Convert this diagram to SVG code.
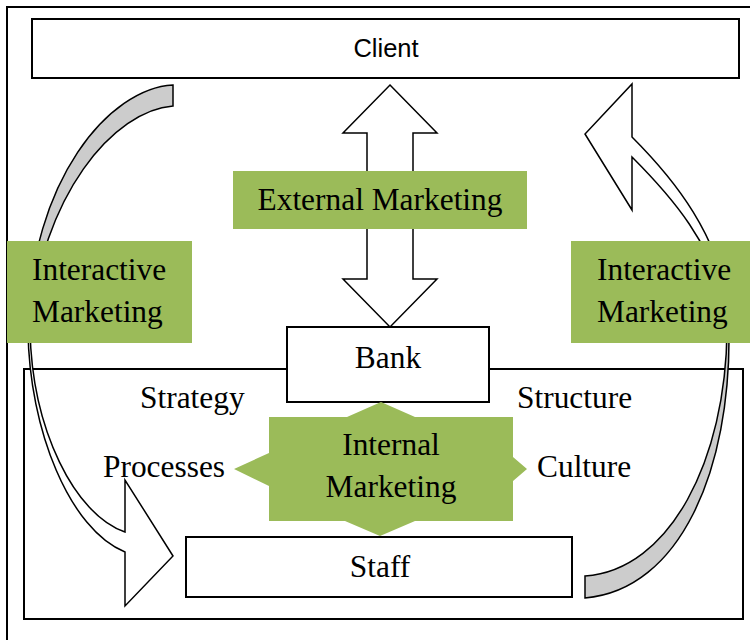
<svg xmlns="http://www.w3.org/2000/svg" width="750" height="640" viewBox="0 0 750 640">
<style>
.box{fill:#fff;stroke:#000;stroke-width:2}
.frame{fill:none;stroke:#000;stroke-width:2}
.green{fill:#9BBB59}
.arrow{fill:#fff;stroke:#000;stroke-width:1.5;stroke-linejoin:miter}
.back{fill:#CCCCCC;stroke:#000;stroke-width:1.5}
.t{font-family:"Liberation Serif","Times New Roman",serif;font-size:31.4px;fill:#000}
.s{font-family:"Liberation Sans",Arial,sans-serif;font-size:25.5px;fill:#000}
</style>
<rect width="750" height="640" fill="#fff"/>
<path class="frame" d="M7,640 V7 H750"/>
<g id="inner-frame"><rect class="frame" x="24" y="369" width="719" height="250"/></g>
<g id="client"><rect class="box" x="32" y="19" width="707" height="59"/><text class="s" x="386" y="57" text-anchor="middle">Client</text></g>
<g id="connectors">
  <path class="arrow" d="M390,85 L437,133 L413,133 L413,279 L437,279 L390,327 L343,279 L367,279 L367,133 L343,133 Z"/>
  <path class="back" d="M173,85 C110,88 30,180 28,330 L30,330 C40,195 115,110 173,106 Z"/>
  <path class="arrow" d="M30,330 C32,430 75,515 125,532 L125,480 L173,556 L125,606 L125,552 C70,530 29,430 28,330 Z"/>
  <path class="arrow" d="M729,330 C730,240 665,170 632,137 L632,84 L585,134 L632,210 L632,157 C660,185 725,250 727,330 Z"/>
  <path class="back" d="M729,330 C731,470 680,590 585,598 L585,576 C670,570 726,460 727,330 Z"/>
</g>
<g id="external-marketing"><rect class="green" x="233" y="171" width="294" height="58"/><text class="t" x="380" y="210" text-anchor="middle">External Marketing</text></g>
<g id="interactive-left"><rect class="green" x="7" y="241" width="185" height="102"/><text class="t" x="32" y="280">Interactive</text><text class="t" x="32" y="322">Marketing</text></g>
<g id="interactive-right"><rect class="green" x="571" y="241" width="179" height="102"/><text class="t" x="597" y="280">Interactive</text><text class="t" x="597" y="322">Marketing</text></g>
<g id="bank"><rect class="box" x="287" y="327" width="202" height="75"/><text class="t" x="388" y="368" text-anchor="middle">Bank</text></g>
<g id="internal-marketing">
  <path class="green" d="M381,402 L415,417 L513,417 L513,457 L527,469 L513,481 L513,521 L415,521 L380,536 L345,521 L269,521 L269,486 L234,469 L269,453 L269,417 L347,417 Z"/>
  <text class="t" x="391" y="455" text-anchor="middle">Internal</text>
  <text class="t" x="391" y="497" text-anchor="middle">Marketing</text>
</g>
<g id="staff"><rect class="box" x="186" y="537" width="386" height="60"/><text class="t" x="380" y="577" text-anchor="middle">Staff</text></g>
<g id="labels">
  <text class="t" x="140" y="408">Strategy</text>
  <text class="t" x="517" y="408">Structure</text>
  <text class="t" x="103" y="477">Processes</text>
  <text class="t" x="537" y="477">Culture</text>
</g>
</svg>
